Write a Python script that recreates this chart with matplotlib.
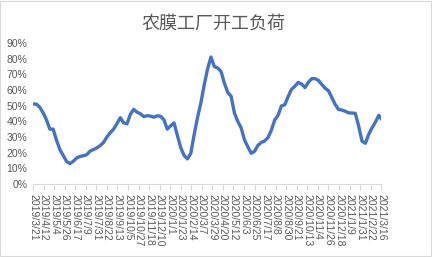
import numpy as np
import pandas as pd
import matplotlib
matplotlib.use('Agg')
import matplotlib.pyplot as plt
import matplotlib.dates as mdates
from matplotlib.patches import Rectangle

plt.rcParams['font.family'] = ['Liberation Sans', 'DejaVu Sans']

# ---------------------------------------------------------------------------
# Data (weekly load rate, %)
# ---------------------------------------------------------------------------
title = "农膜工厂开工负荷"
start_date = "2019-03-21"
last_date = "2021-03-16"
load_pct = [
    51, 51, 49, 45.5, 41, 35, 35, 28, 22, 18.2,
    14.4, 13, 14.5, 16.6, 17.6, 18, 18.7, 21, 22, 23,
    24.5, 26.5, 30, 32.7, 35, 38.5, 42.3, 39, 38.4, 44.5,
    47.6, 45.8, 44.8, 43, 43.6, 43.3, 42.6, 43.5, 43.2, 41,
    35, 37.1, 39, 31, 23.2, 18.2, 16, 19.6, 31.5, 42.4,
    51.7, 63.3, 73.4, 81, 74.9, 74, 71.8, 64.4, 58.5, 56,
    45.3, 39.9, 35.8, 28.1, 23.7, 19.6, 20.9, 24.7, 26.5, 27.5,
    29.6, 34.4, 40.8, 43.9, 49.8, 50.6, 55.8, 60.4, 62.4, 64.8,
    63.8, 61.5, 64.8, 67.2, 67.2, 66.1, 63.6, 61.1, 59.5, 55.2,
    50.8, 47.6, 47.2, 46.4, 45.4, 45.3, 45.1, 37, 27.3, 26,
    31.7, 35.9, 39.5, 43.8, 41.7,
]
y_ticks = [0, 10, 20, 30, 40, 50, 60, 70, 80, 90]
label_step_days = 22

# weekly dates, final reading on the last date
dates = list(pd.date_range(start_date, periods=len(load_pct) - 1, freq='7D'))
dates.append(pd.Timestamp(last_date))
x = mdates.date2num(dates)
y = np.array(load_pct) / 100.0

tick_dates = pd.date_range(start_date, last_date, freq=f'{label_step_days}D')
tick_labels = [f"{d.year}/{d.month}/{d.day}" for d in tick_dates]

fig = plt.figure(figsize=(4.32, 2.57), dpi=100)
fig.patches.append(Rectangle((0.001, 0.002), 0.997, 0.995, transform=fig.transFigure,
                             fill=False, edgecolor='#d9d9d9', linewidth=0.8))
ax = fig.add_axes([0.0764, 0.284, 0.806, 0.549])

ax.plot(x, y, color='#4472C4', linewidth=2.4, solid_joinstyle='round')

ax.set_xlim(mdates.date2num(pd.Timestamp(start_date)), mdates.date2num(pd.Timestamp(last_date)))
ax.set_ylim(0, 0.9)
ax.set_yticks([v / 100 for v in y_ticks])
ax.set_yticklabels([f"{v}%" for v in y_ticks])
ax.set_xticks(mdates.date2num(tick_dates))
ax.set_xticklabels(tick_labels, rotation=270, va='top', ha='center')

for s in ['top', 'right', 'left']:
    ax.spines[s].set_visible(False)
ax.spines['bottom'].set_color('#d9d9d9')
ax.spines['bottom'].set_linewidth(0.8)
ax.tick_params(axis='y', length=0, labelsize=7.5, labelcolor='#595959', pad=4)
ax.tick_params(axis='x', length=4, width=0.8, color='#d9d9d9', labelsize=7.5,
               labelcolor='#595959', pad=3)

fig.text(0.495, 0.91, title, ha='center', va='center', fontsize=13, color='#595959',
         family=['Noto Sans CJK SC', 'DejaVu Sans'])

fig.savefig('out.png', dpi=100)
